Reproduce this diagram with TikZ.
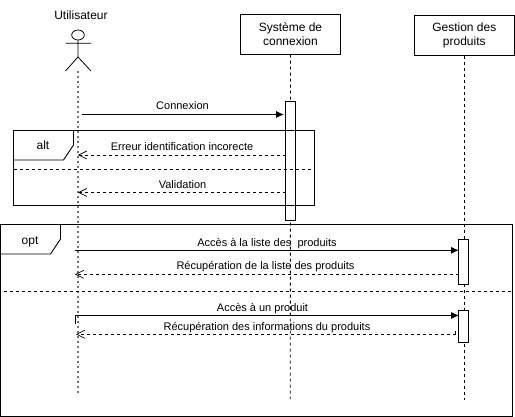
\documentclass[tikz,border=0pt]{standalone}
\usepackage{fontspec}
\setmainfont{Liberation Sans}
\usetikzlibrary{arrows.meta}
\tikzset{
  lane/.style={draw=black,fill=white,line width=0.9pt,minimum width=100pt,minimum height=40pt,align=center,inner sep=0pt,font=\fontsize{12}{14.5}\selectfont},
  activation/.style={draw=black,fill=white,line width=0.9pt,minimum width=10pt,inner sep=0pt},
  lifeline/.style={line width=0.8pt,dash pattern=on 3pt off 3pt},
  actorline/.style={line width=1.2pt,draw=black!55,dash pattern=on 2.5pt off 2.5pt},
  frameline/.style={line width=0.9pt},
  divider/.style={line width=0.8pt,dash pattern=on 3pt off 3pt},
  msg/.style={line width=0.9pt,-{Latex[length=8pt,width=7pt]}},
  reply/.style={line width=0.7pt,dash pattern=on 3pt off 3pt,-{Straight Barb[length=8pt,width=8pt,line width=0.7pt]}},
  msglabel/.style={inner sep=0pt,anchor=base,font=\fontsize{11}{13}\selectfont},
  framelabel/.style={inner sep=0pt,anchor=base,font=\fontsize{12}{14}\selectfont},
  actorpart/.style={line width=0.8pt}
}
\begin{document}
\begin{tikzpicture}[x=1pt,y=-1pt]
\useasboundingbox (0,0) rectangle (515,417);
% lifelines' free ends
\coordinate (uTop) at (78,71);
\coordinate (uEnd) at (78,396);
\coordinate (sEnd) at (290.3,399);
\coordinate (gEnd) at (464.3,400);
% lanes
\node[lane] (sys) at (290.5,34.3) {\raisebox{-1pt}{Système de}\\\raisebox{-1pt}{connexion}};
\node[lane] (ges) at (464.3,35.3) {\raisebox{-1pt}{Gestion des}\\\raisebox{-1pt}{produits}};
\draw[lifeline] (sys.south) -- (sEnd);
\draw[lifeline] (ges.south) -- (gEnd);
\draw[actorline] (uTop) -- (uEnd);
% actor
\node[framelabel] (uName) at (81,20) {Utilisateur};
\draw[actorpart] (78,35) ellipse [x radius=6.3,y radius=5];
\draw[actorpart] (65.5,43.3) -- (91,43.3) (78,40) -- (78,57) (65.5,71) -- (78,57) -- (91,71);
% activation on system
\node[activation,minimum height=118.8pt] (act1) at (290.5,160.9) {};
% alt frame
\draw[frameline] (13.5,130.5) rectangle (314.5,205);
\draw[frameline] (13.5,160) -- (63.5,160) -- (73.5,145) -- (73.5,130.5);
\node[framelabel] (altL) at (43,149.7) {alt};
\draw[divider] (13.5,169) -- (314.5,169);
% opt frame
\draw[frameline] (0.5,224.3) rectangle (512,416.3);
\draw[frameline] (0.5,254) -- (50.5,254) -- (60.5,239) -- (60.5,224.3);
\node[framelabel] (optL) at (30,244.7) {opt};
\draw[divider] (4,291.3) -- (513,291.3);
% activations on products
\node[activation,minimum height=44.7pt] (act2) at (463.5,261.7) {};
\node[activation,minimum height=32pt] (act3) at (463.5,326.3) {};
% message ends
\coordinate (cA) at (81.5,114.5);
\coordinate (cB) at (284,114.5);
\coordinate (eA) at (285.5,155);
\coordinate (eB) at (78,155);
\coordinate (vA) at (285.5,192.5);
\coordinate (vB) at (78,192.5);
\coordinate (lA) at (75,250.3);
\coordinate (lB) at (459,250.3);
\coordinate (rA) at (458.5,274.3);
\coordinate (rB) at (75,274.3);
\coordinate (pA) at (75.5,315.5);
\coordinate (pT) at (75.5,324.5);
\coordinate (pB) at (459,315.5);
\coordinate (iA) at (455.5,334.3);
\coordinate (iT) at (455.5,331.5);
\coordinate (iB) at (76,334.3);
% messages
\draw[msg] (cA) -- (cB);
\draw[reply] (eA) -- (eB);
\draw[reply] (vA) -- (vB);
\draw[msg] (lA) -- (lB);
\draw[reply] (rA) -- (rB);
\draw[line width=0.9pt] (pT) -- (pA);
\draw[msg] (pA) -- (pB);
\draw[line width=0.7pt] (iT) -- (iA);
\draw[reply] (iA) -- (iB);
% labels
\node[msglabel] (l1) at (182.5,110) {Connexion};
\node[msglabel] (l2) at (182,151) {Erreur identification incorecte};
\node[msglabel] (l3) at (182.5,188.5) {Validation};
\node[msglabel] (l4) at (267,246.3) {Accès à la liste des\ \ produits};
\node[msglabel] (l5) at (265.5,270) {Récupération de la liste des produits};
\node[msglabel] (l6) at (262.5,311.3) {Accès à un produit};
\node[msglabel] (l7) at (267,330.3) {Récupération des informations du produits};
\end{tikzpicture}
\end{document}
